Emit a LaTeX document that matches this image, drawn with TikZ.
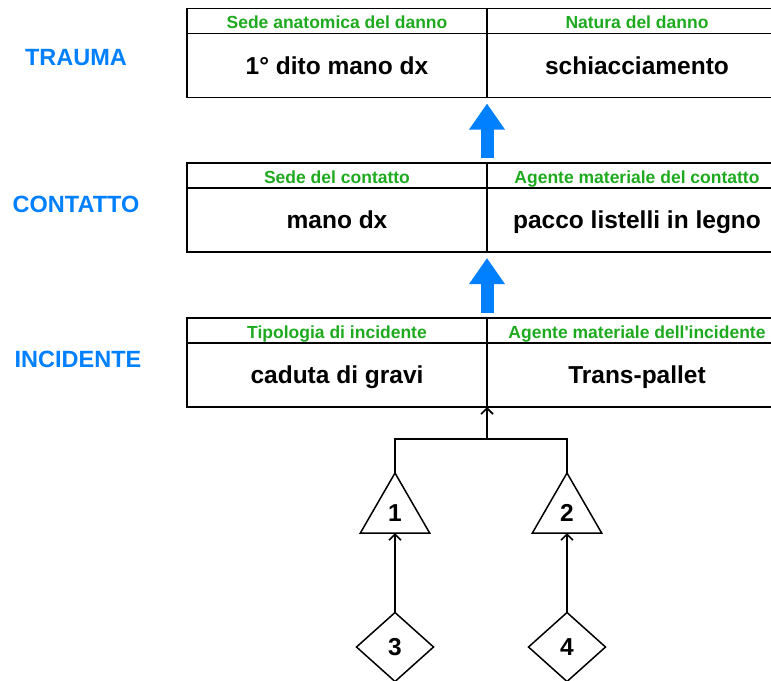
\documentclass[tikz,border=0pt]{standalone}
\usepackage{fontspec}
\setmainfont{Liberation Sans}[Ligatures=TeXOff]
\usepackage{xcolor}
\usetikzlibrary{arrows.meta,shapes.geometric}
\definecolor{hdgreen}{RGB}{30,170,30}
\definecolor{lvblue}{RGB}{0,128,255}

\begin{document}
\begin{tikzpicture}[x=1pt,y=-1pt,
  cell/.style={draw,line width=1.5pt,minimum width=300pt,inner sep=0pt,outer sep=0pt,anchor=north west},
  head/.style={cell,minimum height=25pt,text height=16pt,text depth=1pt,text=hdgreen,font=\fontsize{17.5}{20}\selectfont\bfseries},
  body/.style={cell,minimum height=64pt,text height=20pt,text depth=3pt,font=\fontsize{24.5}{28}\selectfont\bfseries},
  level/.style={text=lvblue,font=\fontsize{23.5}{27}\selectfont\bfseries},
  fat/.style={lvblue,line width=13pt,-{Triangle[width=34pt,length=26pt]},shorten <=5pt,shorten >=6pt},
  tri/.style={draw,line width=1.5pt,regular polygon,regular polygon sides=3,minimum size=80pt,inner sep=0pt,outer sep=0pt,font=\fontsize{24.5}{28}\selectfont\bfseries},
  rombo/.style={draw,line width=1.5pt,diamond,minimum width=77pt,minimum height=69pt,inner sep=0pt,outer sep=0pt,font=\fontsize{24.5}{28}\selectfont\bfseries},
  link/.style={line width=1.6pt},
  up/.style={link,-{Straight Barb[length=4pt,width=8pt,line width=1.6pt,scale=1.5]}}]
\clip (0,0) rectangle (771,680);
% livelli
\node[level] (ltrauma) at (76,58) {TRAUMA};
\node[level] (lcontatto) at (76,204) {CONTATTO};
\node[level] (lincidente) at (78,359) {INCIDENTE};
% trauma
\node[head] (sad) at (187,8.5) {Sede anatomica del danno};
\node[head] (nad) at (487,8.5) {Natura del danno};
\node[body] (dito) at (187,33.5) {1° dito mano dx};
\node[body] (schiac) at (487,33.5) {schiacciamento};
% contatto
\node[head] (sdc) at (187,163) {Sede del contatto};
\node[head] (amc) at (487,163) {Agente materiale del contatto};
\node[body] (mano) at (187,188) {mano dx};
\node[body] (pacco) at (487,188) {pacco listelli in legno};
% incidente
\node[head] (tdi) at (187,318) {Tipologia di incidente};
\node[head] (ami) at (487,318) {Agente materiale dell'incidente};
\node[body] (caduta) at (187,343) {caduta di gravi};
\node[body] (trans) at (487,343) {Trans-pallet};
\draw[fat] (sdc.north east) -- (dito.south east);
\draw[fat] (tdi.north east) -- (mano.south east);
% albero
\coordinate (j) at (487,439);
\node[tri] (t1) at (395,513) {1};
\node[tri] (t2) at (567,513) {2};
\node[rombo] (d3) at (395,647) {3};
\node[rombo] (d4) at (567,647) {4};
\draw[link] (t1.north) |- (j) -| (t2.north);
\draw[up] (j) -- (caduta.south east);
\draw[up] (d3.north) -- (t1.south);
\draw[up] (d4.north) -- (t2.south);
\end{tikzpicture}
\end{document}
